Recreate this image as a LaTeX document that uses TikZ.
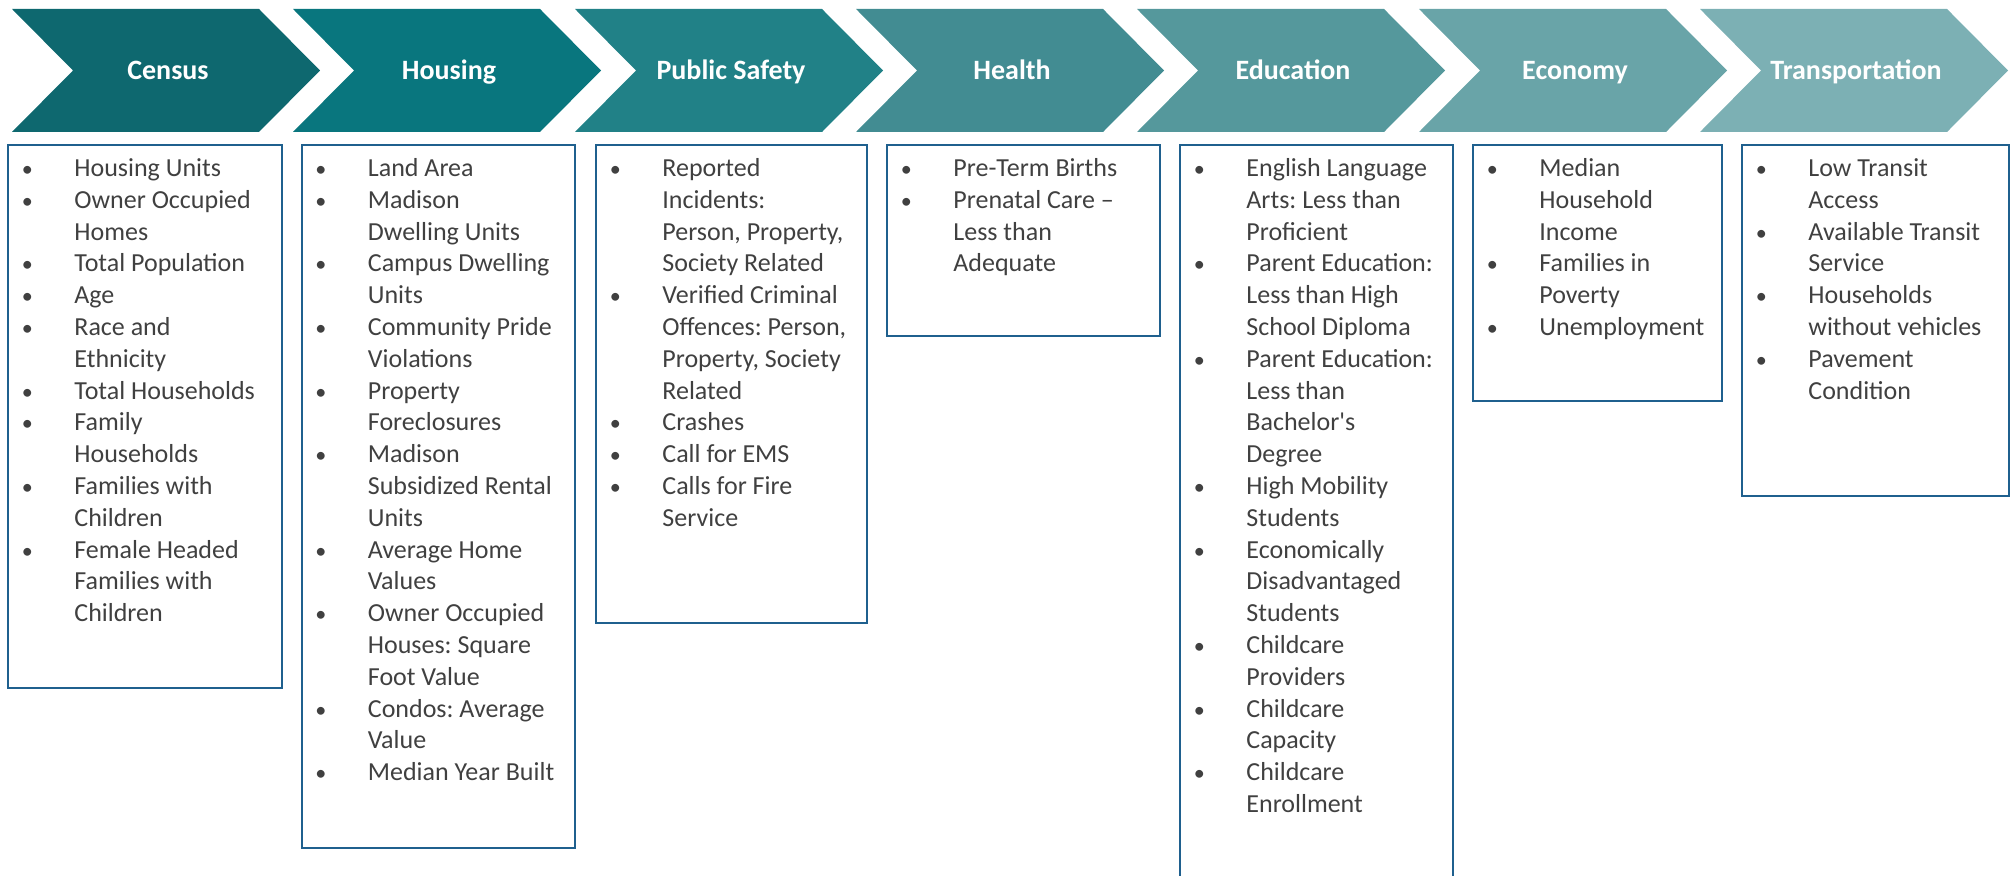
\documentclass[tikz,border=0pt]{standalone}
\usepackage{fontspec}
\setmainfont{Carlito}
\usepackage{tikz}
\frenchspacing

\newcommand{\listdot}{\makebox[33pt][l]{\hspace*{9.5pt}\makebox[0pt]{\scalebox{0.85}{\textbullet}}}}

\begin{document}
\begin{tikzpicture}[x=0.5pt,y=-0.5pt]
  % Colors
  \definecolor{censuscolor}{RGB}{14,104,111}
  \definecolor{housingcolor}{RGB}{9,118,126}
  \definecolor{safetycolor}{RGB}{33,129,135}
  \definecolor{healthcolor}{RGB}{66,140,146}
  \definecolor{educationcolor}{RGB}{85,152,156}
  \definecolor{economycolor}{RGB}{105,164,168}
  \definecolor{transportcolor}{RGB}{124,176,180}
  \definecolor{framecolor}{RGB}{31,96,142}
  \definecolor{itemgray}{RGB}{64,64,64}

  % Styles
  \tikzstyle{chevron title}=[anchor=base,text=white,font=\fontsize{14}{17}\selectfont\bfseries]
  \tikzstyle{list frame}=[draw=framecolor,line width=1pt]
  \tikzstyle{list text}=[anchor=north west,inner xsep=0pt,inner ysep=4.4pt,
    text=itemgray,font=\fontsize{13}{15.9}\selectfont]

  % The graphic
  \useasboundingbox (0,0) rectangle (2011,876);
  \clip (0,0) rectangle (2011,876);

  % chevrons
  \fill[censuscolor] (12,9) -- ++(247,0) -- ++(61,61.5) -- ++(-61,61.5) -- ++(-247,0) -- ++(61,-61.5) -- cycle;
  \fill[housingcolor] (293,9) -- ++(247,0) -- ++(61,61.5) -- ++(-61,61.5) -- ++(-247,0) -- ++(61,-61.5) -- cycle;
  \fill[safetycolor] (575,9) -- ++(247,0) -- ++(61,61.5) -- ++(-61,61.5) -- ++(-247,0) -- ++(61,-61.5) -- cycle;
  \fill[healthcolor] (856,9) -- ++(247,0) -- ++(61,61.5) -- ++(-61,61.5) -- ++(-247,0) -- ++(61,-61.5) -- cycle;
  \fill[educationcolor] (1137,9) -- ++(247,0) -- ++(61,61.5) -- ++(-61,61.5) -- ++(-247,0) -- ++(61,-61.5) -- cycle;
  \fill[economycolor] (1419,9) -- ++(247,0) -- ++(61,61.5) -- ++(-61,61.5) -- ++(-247,0) -- ++(61,-61.5) -- cycle;
  \fill[transportcolor] (1700,9) -- ++(247,0) -- ++(61,61.5) -- ++(-61,61.5) -- ++(-247,0) -- ++(61,-61.5) -- cycle;

  \node[chevron title] (census) at (168,80) {Census};
  \node[chevron title] (housing) at (449,80) {Housing};
  \node[chevron title] (safety) at (731,80) {Public Safety};
  \node[chevron title] (health) at (1012,80) {Health};
  \node[chevron title] (education) at (1293,80) {Education};
  \node[chevron title] (economy) at (1575,80) {Economy};
  \node[chevron title] (transport) at (1856,80) {Transportation};

  % frames
  \draw[list frame] (8,145) rectangle (282,688);
  \draw[list frame] (301.5,145) rectangle (575,848);
  \draw[list frame] (596,145) rectangle (867,623);
  \draw[list frame] (887,145) rectangle (1160,336);
  \draw[list frame] (1180,890) -- (1180,145) -- (1453,145) -- (1453,890);
  \draw[list frame] (1473,145) rectangle (1722,401);
  \draw[list frame] (1742,145) rectangle (2009,496);

  % lists
  \node[list text] (census list) at (8,145) {\begin{tabular}{@{}l@{}l@{}}
    \listdot & Housing Units\\
    \listdot & Owner Occupied\\
             & Homes\\
    \listdot & Total Population\\
    \listdot & Age\\
    \listdot & Race and\\
             & Ethnicity\\
    \listdot & Total Households\\
    \listdot & Family\\
             & Households\\
    \listdot & Families with\\
             & Children\\
    \listdot & Female Headed\\
             & Families with\\
             & Children
  \end{tabular}};

  \node[list text] (housing list) at (301.5,145) {\begin{tabular}{@{}l@{}l@{}}
    \listdot & Land Area\\
    \listdot & Madison\\
             & Dwelling Units\\
    \listdot & Campus Dwelling\\
             & Units\\
    \listdot & Community Pride\\
             & Violations\\
    \listdot & Property\\
             & Foreclosures\\
    \listdot & Madison\\
             & Subsidized Rental\\
             & Units\\
    \listdot & Average Home\\
             & Values\\
    \listdot & Owner Occupied\\
             & Houses: Square\\
             & Foot Value\\
    \listdot & Condos: Average\\
             & Value\\
    \listdot & Median Year Built
  \end{tabular}};

  \node[list text] (safety list) at (596,145) {\begin{tabular}{@{}l@{}l@{}}
    \listdot & Reported\\
             & Incidents:\\
             & Person, Property,\\
             & Society Related\\
    \listdot & Verified Criminal\\
             & Offences: Person,\\
             & Property, Society\\
             & Related\\
    \listdot & Crashes\\
    \listdot & Call for EMS\\
    \listdot & Calls for Fire\\
             & Service
  \end{tabular}};

  \node[list text] (health list) at (887,145) {\begin{tabular}{@{}l@{}l@{}}
    \listdot & Pre-Term Births\\
    \listdot & Prenatal Care \textendash\\
             & Less than\\
             & Adequate
  \end{tabular}};

  \node[list text] (education list) at (1180,145) {\begin{tabular}{@{}l@{}l@{}}
    \listdot & English Language\\
             & Arts: Less than\\
             & Proficient\\
    \listdot & Parent Education:\\
             & Less than High\\
             & School Diploma\\
    \listdot & Parent Education:\\
             & Less than\\
             & Bachelor\textquotesingle s\\
             & Degree\\
    \listdot & High Mobility\\
             & Students\\
    \listdot & Economically\\
             & Disadvantaged\\
             & Students\\
    \listdot & Childcare\\
             & Providers\\
    \listdot & Childcare\\
             & Capacity\\
    \listdot & Childcare\\
             & Enrollment
  \end{tabular}};

  \node[list text] (economy list) at (1473,145) {\begin{tabular}{@{}l@{}l@{}}
    \listdot & Median\\
             & Household\\
             & Income\\
    \listdot & Families in\\
             & Poverty\\
    \listdot & Unemployment
  \end{tabular}};

  \node[list text] (transport list) at (1742,145) {\begin{tabular}{@{}l@{}l@{}}
    \listdot & Low Transit\\
             & Access\\
    \listdot & Available Transit\\
             & Service\\
    \listdot & Households\\
             & without vehicles\\
    \listdot & Pavement\\
             & Condition
  \end{tabular}};

\end{tikzpicture}
\end{document}
